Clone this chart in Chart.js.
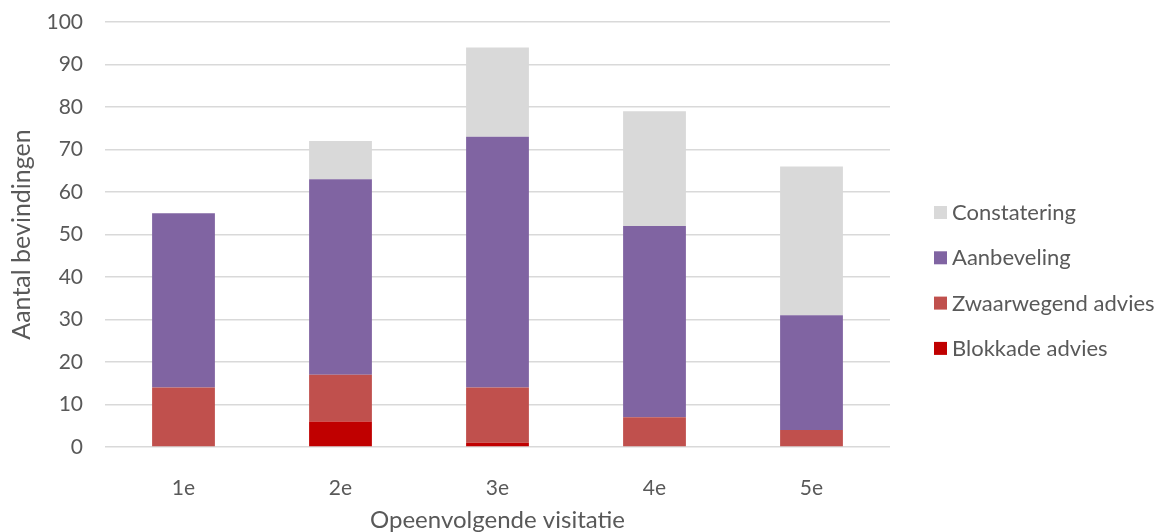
<!DOCTYPE html>
<html>
<head>
<meta charset="utf-8">
<script src="https://cdn.jsdelivr.net/npm/chart.js@4"></script>
<style>
  html, body { margin: 0; padding: 0; background: #ffffff; }
  #wrap { width: 1167px; height: 532px; position: relative; }
</style>
</head>
<body>
<div id="wrap"><canvas id="c" width="1167" height="532"></canvas></div>
<script>
const categories = ['1e', '2e', '3e', '4e', '5e'];
const blokkade = [0, 6, 1, 0, 0];
const zwaarwegend = [14, 11, 13, 7, 4];
const aanbeveling = [41, 46, 59, 45, 27];
const constatering = [0, 9, 21, 27, 35];
const yTicks = [0, 10, 20, 30, 40, 50, 60, 70, 80, 90, 100];

const FONT = 'Lato, "Open Sans", sans-serif';
const TEXT = '#595959';

// Legend drawn to the right of the plot, top entry = top of the stack
const sideLegend = {
  id: 'sideLegend',
  afterDraw(chart) {
    const ctx = chart.ctx;
    const items = chart.data.datasets.slice().reverse();
    const x = 934, y0 = 212, step = 45.3;
    ctx.save();
    ctx.font = '22px ' + FONT;
    ctx.textBaseline = 'middle';
    ctx.textAlign = 'left';
    items.forEach((ds, i) => {
      const y = y0 + i * step;
      ctx.fillStyle = ds.backgroundColor;
      ctx.fillRect(x, y - 6, 13, 13);
      ctx.fillStyle = TEXT;
      ctx.fillText(ds.label, x + 18, y + 1);
    });
    ctx.restore();
  }
};

new Chart(document.getElementById('c'), {
  type: 'bar',
  data: {
    labels: categories,
    datasets: [
      { label: 'Blokkade advies', data: blokkade, backgroundColor: '#C00000' },
      { label: 'Zwaarwegend advies', data: zwaarwegend, backgroundColor: '#C0504D' },
      { label: 'Aanbeveling', data: aanbeveling, backgroundColor: '#8064A2' },
      { label: 'Constatering', data: constatering, backgroundColor: '#D9D9D9' }
    ]
  },
  options: {
    responsive: false,
    animation: false,
    layout: { padding: { left: 0, right: 277, top: 0, bottom: 0 } },
    datasets: { bar: { categoryPercentage: 1, barPercentage: 0.4, borderWidth: 0 } },
    plugins: { legend: { display: false }, tooltip: { enabled: false } },
    scales: {
      x: {
        stacked: true,
        afterFit(scale) { scale.height = 85; },
        grid: { display: false, drawTicks: false },
        border: { display: false },
        ticks: { color: TEXT, font: { family: FONT, size: 21 }, padding: 29 },
        title: { display: true, text: 'Opeenvolgende visitatie', color: TEXT,
                 font: { family: FONT, size: 24, lineHeight: 1 }, padding: { top: 0, bottom: 0 } }
      },
      y: {
        stacked: true,
        min: 0, max: 100,
        afterBuildTicks(scale) { scale.ticks = yTicks.map(v => ({ value: v })); },
        afterFit(scale) { scale.width = 105; scale.paddingTop = 22; scale.paddingBottom = 0; },
        grid: { color: '#D9D9D9', lineWidth: 1.5, drawTicks: false },
        border: { display: false },
        ticks: { color: TEXT, font: { family: FONT, size: 21 }, padding: 22 },
        title: { display: true, text: 'Aantal bevindingen', color: TEXT,
                 font: { family: FONT, size: 25, lineHeight: 1 }, padding: { top: 9, bottom: 0 } }
      }
    }
  },
  plugins: [sideLegend]
});
</script>
</body>
</html>
